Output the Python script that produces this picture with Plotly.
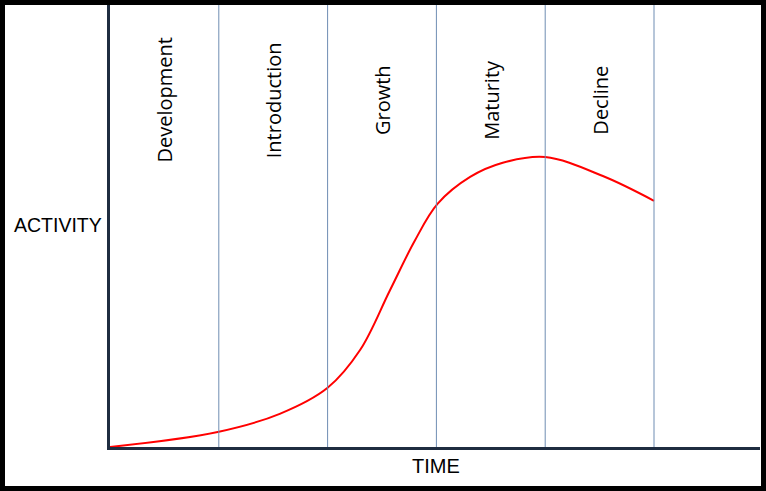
import plotly.graph_objects as go

## stage names and boundaries (time units, one unit per stage)
stages = ["Development", "Introduction", "Growth", "Maturity", "Decline"]
stage_centers = [0.5, 1.5, 2.5, 3.5, 4.5]
boundaries = [1, 2, 3, 4, 5]

## activity curve (0-100 scale)
time_vals = [0.0, 0.99, 1.56, 2.00, 2.30, 2.57, 2.80, 3.01, 3.31, 3.61, 4.00, 4.53, 5.00]
activity_vals = [0.0, 3.4, 7.5, 13.4, 22.0, 35.3, 46.6, 55.0, 61.1, 64.3, 65.6, 61.3, 55.7]

W, H = 766, 491
L, R, T, B = 110, 6, 5, 44
pw, ph = W - L - R, H - T - B

fig = go.Figure()

fig.add_trace(go.Scatter(
    x=time_vals, y=activity_vals, mode="lines",
    line=dict(color="#ff0000", width=2, shape="spline", smoothing=1.0),
    hoverinfo="skip", showlegend=False,
))

## stage boundaries
for b in boundaries:
    fig.add_vline(x=b, line=dict(color="#6f8db3", width=1))

## stage labels, rotated
for name, xc in zip(stages, stage_centers):
    fig.add_annotation(x=xc, y=78.5, text=name, textangle=-90, showarrow=False,
                       font=dict(family="Open Sans", size=20, color="black"))

## axis labels
fig.add_annotation(xref="paper", yref="paper", x=(58 - L) / pw, y=(H - B - 225) / ph,
                   xanchor="center", yanchor="middle",
                   text="ACTIVITY", showarrow=False,
                   font=dict(family="Liberation Sans", size=19.5, color="black"))
fig.add_annotation(xref="paper", yref="paper", x=(436 - L) / pw, y=(H - B - 466) / ph,
                   xanchor="center", yanchor="middle",
                   text="TIME", showarrow=False,
                   font=dict(family="Liberation Sans", size=20, color="black"))

## outer frame
fig.add_shape(type="rect", xref="paper", yref="paper",
              x0=(2.5 - L) / pw, x1=(763.5 - L) / pw,
              y0=(H - B - 488.5) / ph, y1=(H - B - 2.5) / ph,
              line=dict(color="black", width=5), layer="above")

fig.update_xaxes(range=[0, pw / 108.8], showgrid=False, zeroline=False, showticklabels=False,
                 ticks="", showline=True, linecolor="#1f2d40", linewidth=2.5)
fig.update_yaxes(range=[0, 100], showgrid=False, zeroline=False, showticklabels=False,
                 ticks="", showline=True, linecolor="#1f2d40", linewidth=2.5)

fig.update_layout(
    width=W, height=H,
    margin=dict(l=L, r=R, t=T, b=B),
    paper_bgcolor="white", plot_bgcolor="white",
    showlegend=False,
)

## page body has an 8px default margin, drop it so the frame sits on the edge
fig.write_html("out.html", config={"displayModeBar": False},
               post_script="document.body.style.margin='0';")
